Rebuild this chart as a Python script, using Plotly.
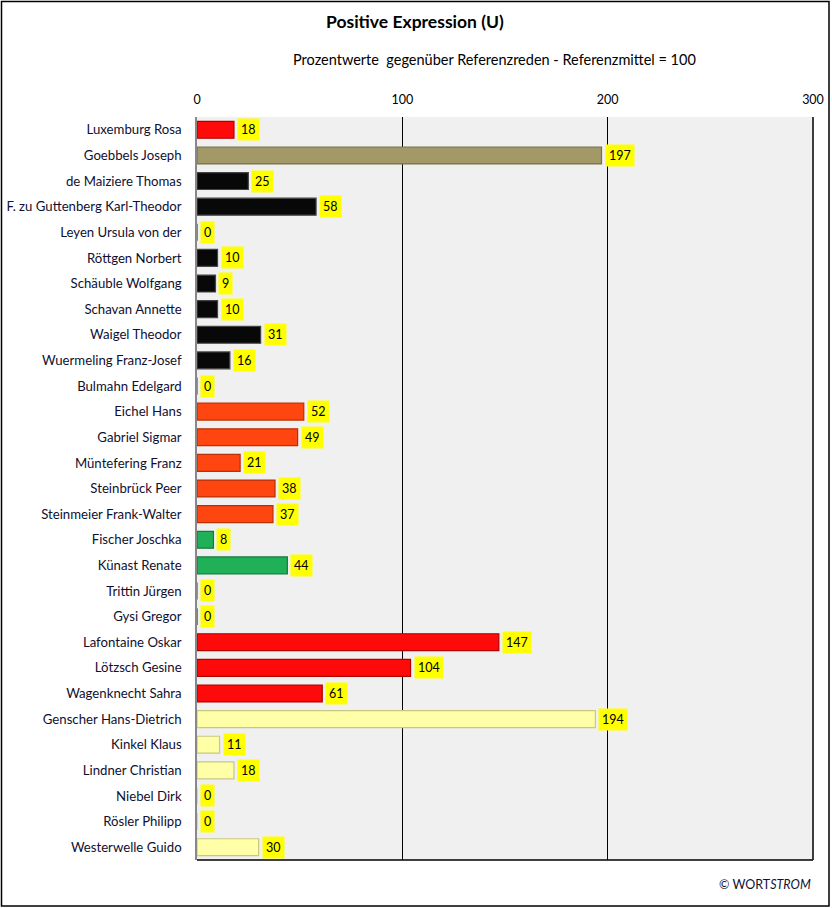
import plotly.graph_objects as go

names = ["Luxemburg Rosa", "Goebbels Joseph", "de Maiziere Thomas", "F. zu Guttenberg Karl-Theodor",
         "Leyen Ursula von der", "Röttgen Norbert", "Schäuble Wolfgang", "Schavan Annette",
         "Waigel Theodor", "Wuermeling Franz-Josef", "Bulmahn Edelgard", "Eichel Hans",
         "Gabriel Sigmar", "Müntefering Franz", "Steinbrück Peer", "Steinmeier Frank-Walter",
         "Fischer Joschka", "Künast Renate", "Trittin Jürgen", "Gysi Gregor", "Lafontaine Oskar",
         "Lötzsch Gesine", "Wagenknecht Sahra", "Genscher Hans-Dietrich", "Kinkel Klaus",
         "Lindner Christian", "Niebel Dirk", "Rösler Philipp", "Westerwelle Guido"]
values = [18, 197, 25, 58, 0, 10, 9, 10, 31, 16, 0, 52, 49, 21, 38, 37, 8, 44, 0, 0,
          147, 104, 61, 194, 11, 18, 0, 0, 30]
groups = ["rot", "braun", "cdu", "cdu", "cdu", "cdu", "cdu", "cdu", "cdu", "cdu",
          "spd", "spd", "spd", "spd", "spd", "spd", "gruen", "gruen", "gruen",
          "linke", "linke", "linke", "linke", "fdp", "fdp", "fdp", "fdp", "fdp", "fdp"]
fill = {"rot": "#FF0A0A", "braun": "#A39968", "cdu": "#080808", "spd": "#FF4510",
        "gruen": "#20B058", "linke": "#FF0A0A", "fdp": "#FFFFA8"}
edge = {"rot": "#B00000", "braun": "#77704A", "cdu": "#444444", "spd": "#B83008",
        "gruen": "#157A3C", "linke": "#B00000", "fdp": "#C8C880"}
ticks = [0, 100, 200, 300]

FONT = "Lato, Open Sans, sans-serif"

fig = go.Figure()
fig.add_trace(go.Bar(
    x=values, y=names, orientation="h",
    marker=dict(color=[fill[g] for g in groups],
                line=dict(color=[edge[g] for g in groups], width=1.2)),
    width=0.66, hoverinfo="x+y", showlegend=False))

for n, v in zip(names, values):
    fig.add_annotation(x=v, y=n, xref="x", yref="y", text=str(v), showarrow=False,
                       xanchor="left", xshift=3, bgcolor="#FFFF00",
                       font=dict(size=12.5, color="black", family=FONT),
                       borderpad=3)

L, R, T, B = 197, 19, 117, 48
W, H = 832, 908
pw, ph = W - L - R, H - T - B

fig.add_annotation(x=1.0, y=-24 / ph, xref="paper", yref="paper", xanchor="right", yanchor="middle",
                   text="© WORT<i>STROM</i>", showarrow=False,
                   font=dict(size=12.5, color="#111133", family=FONT))
fig.add_annotation(x=(415 - L) / pw, y=(H - B - 22) / ph, xref="paper", yref="paper",
                   yanchor="middle", text="<b>Positive Expression (U)</b>", showarrow=False,
                   font=dict(size=17.5, color="black", family=FONT))
fig.add_annotation(x=(494 - L) / pw, y=(H - B - 59) / ph, xref="paper", yref="paper",
                   yanchor="middle",
                   text="Prozentwerte&nbsp;&nbsp;gegenüber Referenzreden - Referenzmittel = 100",
                   showarrow=False,
                   font=dict(size=14.5, color="black", family=FONT))

# plot frame: right & bottom black lines
fig.add_shape(type="line", xref="paper", yref="paper", x0=1, x1=1, y0=0, y1=1,
              line=dict(color="black", width=1.5))
fig.add_shape(type="line", xref="paper", yref="paper", x0=0, x1=1, y0=0, y1=0,
              line=dict(color="black", width=1.5))
# outer border
fig.add_shape(type="rect", xref="paper", yref="paper",
              x0=(1.5 - L) / pw, x1=(829 - L) / pw, y0=(H - B - 906) / ph, y1=(H - B - 1.5) / ph,
              line=dict(color="black", width=1.5))

fig.update_layout(
    width=W, height=H, margin=dict(l=L, r=R, t=T, b=B, autoexpand=False),
    paper_bgcolor="white", plot_bgcolor="#F0F0F0",
    font=dict(family=FONT, size=12, color="#101030"),
    xaxis=dict(side="top", range=[0, 300], tickvals=ticks, ticktext=[str(t) for t in ticks],
               showgrid=True, gridcolor="black", gridwidth=1, zeroline=False, automargin=False,
               showline=False, ticks="", ticklabelstandoff=10,
               tickfont=dict(size=12.5, color="black"), fixedrange=True),
    yaxis=dict(autorange="reversed", showline=True, linecolor="#888888", linewidth=1.5,
               ticks="", ticklabelstandoff=11, tickfont=dict(size=13.2, color="#101030"),
               showgrid=False, automargin=False),
)
fig.write_html("out.html", config={"displayModeBar": False},
               post_script="document.body.style.margin='0px';")
